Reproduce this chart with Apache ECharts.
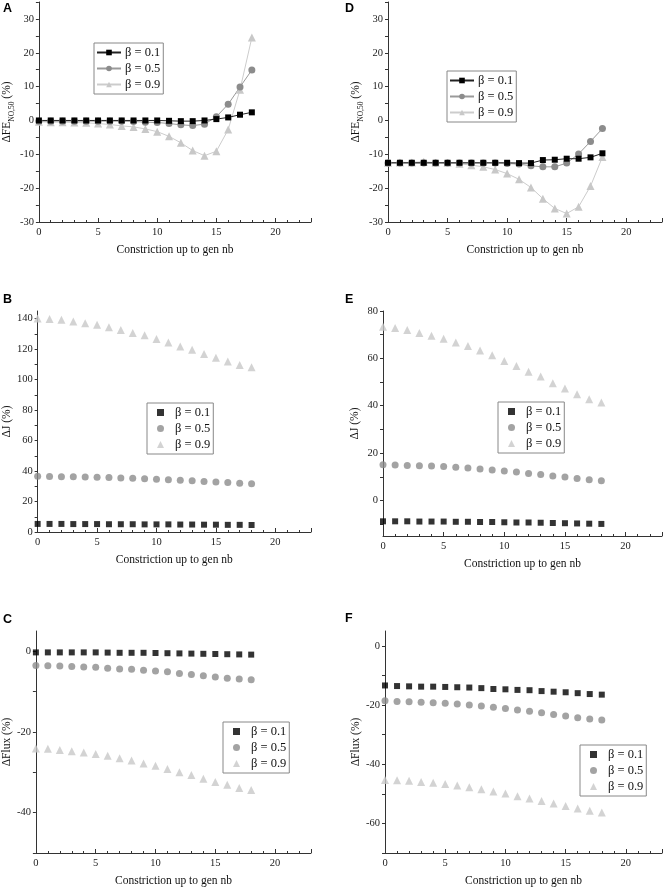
<!DOCTYPE html>
<html>
<head>
<meta charset="utf-8">
<script src="https://cdn.jsdelivr.net/npm/echarts@6/dist/echarts.min.js"></script>
<style>html,body{margin:0;padding:0;background:#fff}#c{width:664px;height:890px}</style>
</head>
<body>
<div id="c"></div>
<script>
const gen = [0,1,2,3,4,5,6,7,8,9,10,11,12,13,14,15,16,17,18];
const betaLabels = ['β = 0.1','β = 0.5','β = 0.9'];
const xTitle = 'Constriction up to gen nb';

// Panel A: ΔFE_NO,50 (%)
const A_b01 = [0,0,0,0,0,0,0,0,0,0,0,-0.1,-0.2,-0.2,0,0.4,0.9,1.7,2.4];
const A_b05 = [-0.2,-0.2,-0.2,-0.2,-0.2,-0.2,-0.2,-0.2,-0.3,-0.5,-0.6,-0.9,-1.3,-1.5,-1.1,1.1,4.8,9.9,14.9];
const A_b09 = [-0.4,-0.5,-0.5,-0.6,-0.7,-0.9,-1.2,-1.6,-1.9,-2.5,-3.3,-4.7,-6.6,-8.9,-10.4,-9.1,-2.7,9.1,24.5];
// Panel D
const D_b01 = [-12.5,-12.5,-12.5,-12.5,-12.5,-12.5,-12.5,-12.5,-12.5,-12.5,-12.5,-12.6,-12.6,-11.7,-11.6,-11.3,-11.3,-10.9,-9.7];
const D_b05 = [-12.6,-12.6,-12.6,-12.6,-12.6,-12.6,-12.6,-12.6,-12.6,-12.6,-12.7,-12.9,-13.4,-13.7,-13.7,-12.6,-9.9,-6.2,-2.4];
const D_b09 = [-12.5,-12.4,-12.4,-12.2,-12.5,-12.5,-12.8,-13.2,-13.7,-14.5,-15.7,-17.4,-19.8,-23.1,-26.0,-27.5,-25.5,-19.4,-10.8];
// Panel B: ΔJ (%)
const B_b01 = [5.3,5.3,5.3,5.2,5.2,5.2,5.1,5.1,5.1,5.0,5.0,5.0,4.9,4.9,4.8,4.8,4.7,4.7,4.6];
const B_b05 = [36.5,36.4,36.3,36.2,36.1,35.9,35.7,35.5,35.2,34.9,34.6,34.3,34.0,33.6,33.2,32.8,32.4,32.0,31.6];
const B_b09 = [140.0,139.8,139.2,138.1,137.0,135.9,134.4,132.6,130.6,129.1,126.7,124.3,121.7,119.5,116.8,114.4,111.8,109.6,108.1];
// Panel E
const E_b01 = [-8.8,-8.8,-8.8,-8.9,-8.9,-8.9,-9.0,-9.0,-9.1,-9.1,-9.2,-9.3,-9.3,-9.4,-9.5,-9.6,-9.7,-9.8,-9.9];
const E_b05 = [15.1,15.0,14.8,14.7,14.6,14.3,14.0,13.7,13.3,12.9,12.4,12.0,11.4,11.0,10.3,9.9,9.3,8.8,8.3];
const E_b09 = [73.4,72.8,72.0,70.7,69.5,68.3,66.7,65.2,63.3,61.3,58.9,56.8,54.4,52.3,49.5,47.3,44.8,42.7,41.4];
// Panel C: ΔFlux (%)
const C_b01 = [-0.3,-0.3,-0.3,-0.3,-0.3,-0.3,-0.35,-0.4,-0.4,-0.4,-0.45,-0.5,-0.55,-0.6,-0.65,-0.7,-0.75,-0.8,-0.85];
const C_b05 = [-3.55,-3.6,-3.7,-3.8,-3.9,-4.0,-4.2,-4.4,-4.5,-4.7,-4.9,-5.1,-5.5,-5.8,-6.1,-6.4,-6.7,-6.9,-7.1];
const C_b09 = [-24.1,-24.2,-24.5,-24.8,-25.1,-25.5,-25.9,-26.5,-27.1,-27.8,-28.4,-29.2,-30.0,-30.7,-31.6,-32.4,-33.1,-33.9,-34.4];
// Panel F
const F_b01 = [-13.4,-13.6,-13.7,-13.8,-13.8,-13.9,-14.0,-14.1,-14.3,-14.6,-14.7,-14.9,-15.0,-15.3,-15.5,-15.7,-16.0,-16.3,-16.5];
const F_b05 = [-18.6,-18.8,-18.9,-19.1,-19.2,-19.4,-19.7,-20.0,-20.3,-20.8,-21.2,-21.7,-22.1,-22.6,-23.2,-23.7,-24.3,-24.7,-25.1];
const F_b09 = [-45.3,-45.4,-45.6,-46.0,-46.3,-46.7,-47.2,-47.8,-48.5,-49.2,-49.9,-50.8,-51.6,-52.4,-53.3,-54.1,-55.0,-55.7,-56.3];

// Axis tick / label values
const xMin = 0, xMax = 23, xStep = 5;
const yA = {min:-30, max:35, ticks:[-30,-25,-20,-15,-10,-5,0,5,10,15,20,25,30,35], labels:[-30,-20,-10,0,10,20,30]};
const yB = {min:0, max:145, ticks:[0,10,20,30,40,50,60,70,80,90,100,110,120,130,140], labels:[0,20,40,60,80,100,120,140]};
const yE = {min:-15, max:80, ticks:[-10,0,10,20,30,40,50,60,70,80], labels:[0,20,40,60,80]};
const yC = {min:-50, max:5, ticks:[-50,-40,-30,-20,-10,0], labels:[-40,-20,0]};
const yF = {min:-70, max:5, ticks:[-70,-60,-50,-40,-30,-20,-10,0], labels:[-60,-40,-20,0]};

const colors = ['#000000', '#8c8c8c', '#c8c8c8'];
const lineColors = ['#222222', '#9a9a9a', '#cccccc'];
const symbols = ['rect', 'circle', 'triangle'];
const symSizes = [6, 7, 8];
const serif = 'Liberation Serif';

const panels = [
  {id:'A', grid:{left:37, top:2, width:274, height:220}, y:yA, data:[A_b01,A_b05,A_b09], line:true,
   yName:'{a|ΔFE}{b|NO,50}{a| (%)}', legend:{left:94, top:43}},
  {id:'D', grid:{left:388, top:2, width:274, height:220}, y:yA, data:[D_b01,D_b05,D_b09], line:true,
   yName:'{a|ΔFE}{b|NO,50}{a| (%)}', legend:{left:447, top:71}},
  {id:'B', grid:{left:36, top:311, width:275, height:221}, y:yB, data:[B_b01,B_b05,B_b09], line:false,
   yName:'{a|ΔJ (%)}', legend:{left:147, top:403}},
  {id:'E', grid:{left:383, top:311, width:279, height:225}, y:yE, data:[E_b01,E_b05,E_b09], line:false,
   yName:'{a|ΔJ (%)}', legend:{left:498, top:402}},
  {id:'C', grid:{left:34, top:631, width:277, height:222}, y:yC, data:[C_b01,C_b05,C_b09], line:false,
   yName:'{a|ΔFlux (%)}', legend:{left:223, top:722}},
  {id:'F', grid:{left:385, top:631, width:277, height:222}, y:yF, data:[F_b01,F_b05,F_b09], line:false,
   yName:'{a|ΔFlux (%)}', legend:{left:580, top:745}}
];

const axisColor = '#333';
const grids = [], xAxes = [], yAxes = [], series = [], legends = [];
panels.forEach((p, i) => {
  grids.push(p.grid);
  xAxes.push({
    type:'value', gridIndex:i, min:xMin, max:xMax, interval:xStep,
    name:xTitle, nameLocation:'middle', nameGap:22,
    nameTextStyle:{fontFamily:serif, fontSize:11.5, color:'#111'},
    axisLine:{show:true, onZero:false, lineStyle:{color:axisColor, width:1}},
    axisTick:{show:true, inside:true, length:4, lineStyle:{color:axisColor}},
    minorTick:{show:true, splitNumber:5, length:2, lineStyle:{color:axisColor}},
    splitLine:{show:false},
    axisLabel:{fontFamily:serif, fontSize:10.5, color:'#222', margin:5, showMaxLabel:false}
  });
  yAxes.push({
    type:'value', gridIndex:i, min:p.y.min, max:p.y.max,
    name:p.yName, nameLocation:'middle', nameGap:22, nameRotate:90,
    nameTextStyle:{rich:{
      a:{fontFamily:serif, fontSize:11.5, color:'#111', verticalAlign:'bottom'},
      b:{fontFamily:serif, fontSize:7.5, color:'#111', verticalAlign:'bottom', padding:[0,0,-3,0]}
    }},
    axisLine:{show:true, onZero:false, lineStyle:{color:axisColor, width:1}},
    axisTick:{show:true, inside:false, length:3, customValues:p.y.ticks, lineStyle:{color:axisColor}},
    splitLine:{show:false},
    axisLabel:{fontFamily:serif, fontSize:10.5, color:'#222', margin:5, customValues:p.y.labels}
  });
  const names = betaLabels.map(b => p.id + '|' + b);
  [2,1,0].forEach(k => {
    series.push({
      type: p.line ? 'line' : 'scatter',
      name: names[k],
      xAxisIndex:i, yAxisIndex:i,
      data: gen.map((g, j) => [g, p.data[k][j]]),
      symbol: symbols[k], symbolSize: symSizes[k],
      showSymbol:true,
      itemStyle:{color:colors[k]},
      lineStyle:{color:lineColors[k], width:1},
      emphasis:{disabled:true},
      animation:false
    });
  });
  legends.push({
    left:p.legend.left, top:p.legend.top, orient:'vertical',
    data:names,
    formatter: n => n.split('|')[1],
    selectedMode:false,
    borderColor:'#888', borderWidth:1,
    padding: p.line ? [3,3,3,2] : [3,3,3,10],
    itemGap:3,
    itemWidth: p.line ? 24 : 7, itemHeight: 7,
    textStyle:{fontFamily:serif, fontSize:12.5, color:'#111', padding: p.line ? [0,0,0,-1] : [0,0,0,6]}
  });
});

const letters = panels.map(p => ({
  type:'text',
  left: p.id==='A'||p.id==='B'||p.id==='C' ? 3 : 345,
  top: {A:2, D:2, B:293, E:293, C:613, F:612}[p.id],
  style:{text:p.id, font:'bold 12.5px "Liberation Sans", Arial, sans-serif', fill:'#000'}
}));

const chart = echarts.init(document.getElementById('c'), null, {renderer:'canvas'});
chart.setOption({
  animation:false,
  backgroundColor:'#fff',
  grid:grids, xAxis:xAxes, yAxis:yAxes, series:series, legend:legends,
  graphic:letters
});
</script>
</body>
</html>
